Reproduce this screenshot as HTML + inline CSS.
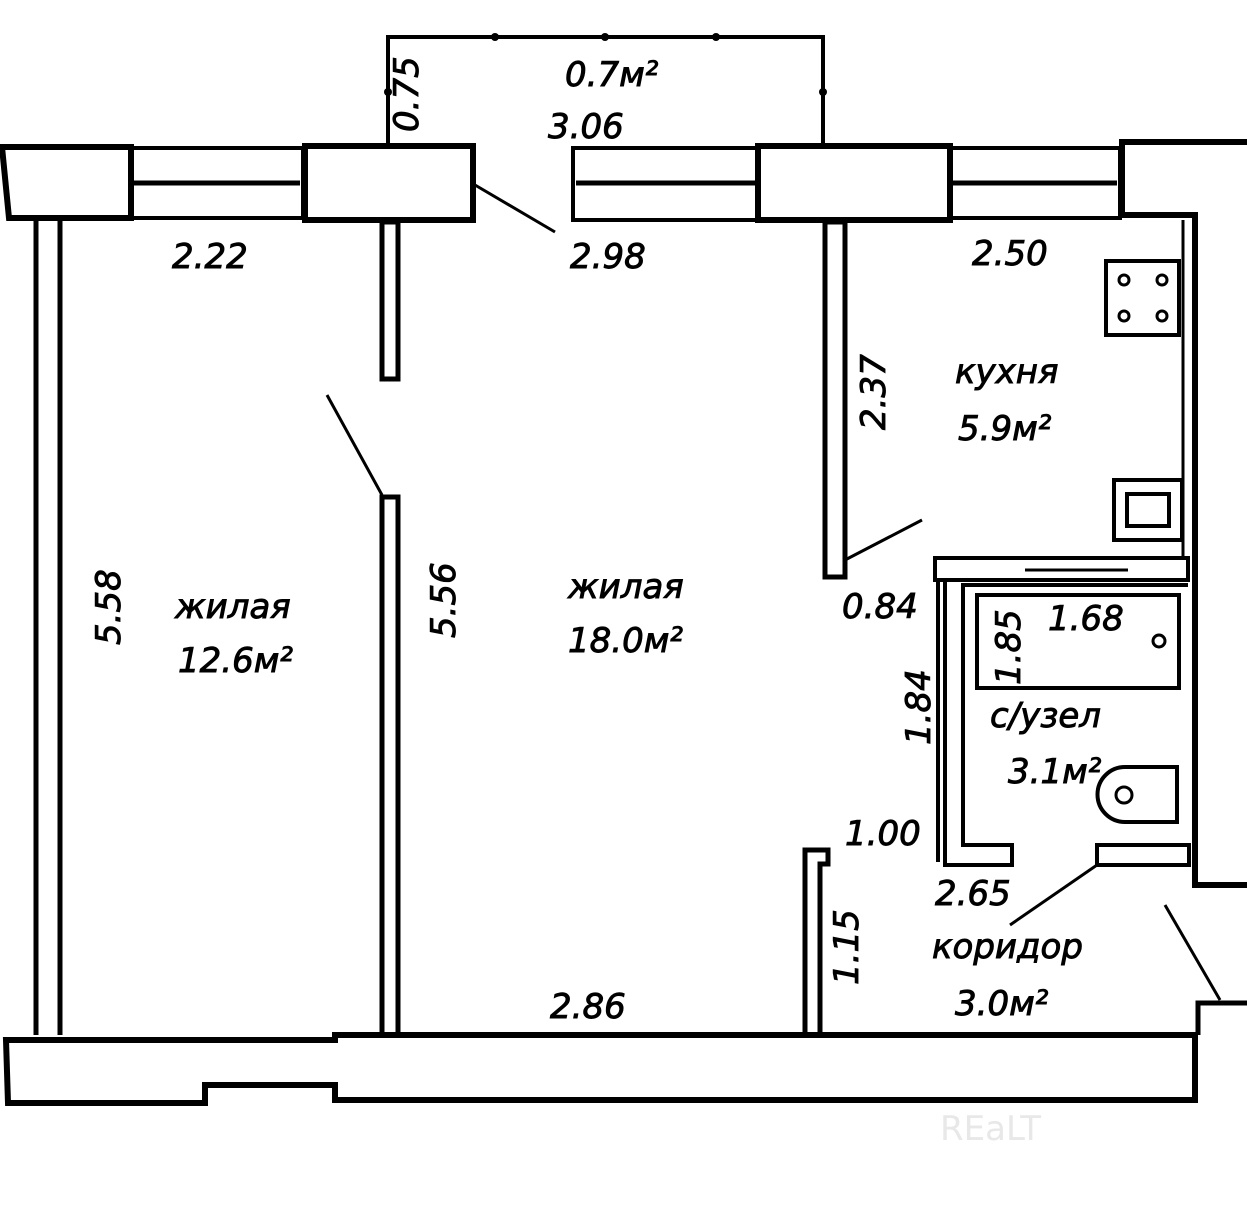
<!DOCTYPE html>
<html><head><meta charset="utf-8"><style>
html,body{margin:0;padding:0;background:#fff;}
svg{display:block}
text{font-family:"DejaVu Sans","Liberation Sans",sans-serif;font-style:italic;fill:#000;font-size:34px;stroke:#000;stroke-width:0.9px;}
</style></head><body>
<svg width="1247" height="1208" viewBox="0 0 1247 1208" xmlns="http://www.w3.org/2000/svg">
<g fill="none" stroke="#000" stroke-width="5">
<polyline points="388,145 388,37 823,37 823,145" stroke-width="4"/>
<polygon points="2,147 131,147 131,218 9,218" stroke-width="6"/>
<rect x="131" y="148" width="172" height="70" stroke-width="4"/>
<line x1="134" y1="183" x2="300" y2="183" stroke-width="5"/>
<rect x="305" y="146" width="168" height="74" stroke-width="6"/>
<rect x="573" y="148" width="185" height="72" stroke-width="4"/>
<line x1="576" y1="183" x2="755" y2="183" stroke-width="5"/>
<rect x="758" y="146" width="192" height="74" stroke-width="6"/>
<rect x="950" y="148" width="170" height="70" stroke-width="4"/>
<line x1="953" y1="183" x2="1117" y2="183" stroke-width="5"/>
<polyline points="1247,142 1122,142 1122,215 1195,215 1195,885 1247,885" stroke-width="6"/>
<line x1="1183" y1="220" x2="1183" y2="560" stroke-width="3"/>
<line x1="36" y1="220" x2="36" y2="1035" stroke-width="5"/>
<line x1="60" y1="220" x2="60" y2="1035" stroke-width="5"/>
<rect x="382" y="222" width="16" height="157" stroke-width="5"/>
<rect x="382" y="497" width="16" height="538" stroke-width="5"/>
<line x1="327" y1="395" x2="382" y2="495" stroke-width="3"/>
<line x1="475" y1="185" x2="555" y2="232" stroke-width="3"/>
<rect x="825" y="222" width="20" height="355" stroke-width="5"/>
<line x1="845" y1="560" x2="922" y2="520" stroke-width="3"/>
<rect x="1106" y="261" width="73" height="74" stroke-width="4"/>
<circle cx="1124" cy="280" r="5" stroke-width="3"/><circle cx="1162" cy="280" r="5" stroke-width="3"/>
<circle cx="1124" cy="316" r="5" stroke-width="3"/><circle cx="1162" cy="316" r="5" stroke-width="3"/>
<rect x="1114" y="480" width="68" height="60" stroke-width="4"/>
<rect x="1127" y="494" width="42" height="32" stroke-width="4"/>
<rect x="935" y="558" width="253" height="22" stroke-width="4"/>
<line x1="1025" y1="570" x2="1128" y2="570" stroke-width="3"/>
<polyline points="938,862 938,580" stroke-width="4"/>
<polyline points="945,582 945,865 1012,865 1012,845 963,845 963,585 1188,585" stroke-width="4"/>
<rect x="977" y="595" width="202" height="93" stroke-width="4"/>
<circle cx="1159" cy="641" r="6" stroke-width="3"/>
<path d="M1125,767 L1177,767 L1177,822 L1125,822 A27,27 0 0 1 1125,767 Z" stroke-width="4"/>
<circle cx="1124" cy="795" r="8" stroke-width="3"/>
<rect x="1097" y="845" width="92" height="20" stroke-width="4"/>
<line x1="1097" y1="865" x2="1010" y2="925" stroke-width="3"/>
<polyline points="805,1035 805,850 828,850 828,864 820,864 820,1035" stroke-width="5"/>
<line x1="1165" y1="905" x2="1220" y2="1000" stroke-width="3"/>
<polygon points="6,1040 335,1040 335,1035 1195,1035 1195,1100 335,1100 335,1085 205,1085 205,1103 8,1103" stroke-width="6"/>
<polyline points="1247,1003 1198,1003 1198,1035" stroke-width="5"/>
</g>
<g fill="#000"><circle cx="495" cy="37" r="4"/><circle cx="605" cy="37" r="4"/><circle cx="716" cy="37" r="4"/><circle cx="388" cy="92" r="4"/><circle cx="823" cy="92" r="4"/></g>
<text x="418" y="132" transform="rotate(-90 418 132)" font-size="36">0.75</text>
<text x="565" y="86">0.7м²</text>
<text x="548" y="138">3.06</text>
<text x="172" y="268">2.22</text>
<text x="570" y="268">2.98</text>
<text x="972" y="265">2.50</text>
<text x="885" y="430" transform="rotate(-90 885 430)">2.37</text>
<text x="955" y="383">кухня</text>
<text x="958" y="440">5.9м²</text>
<text x="120" y="645" transform="rotate(-90 120 645)">5.58</text>
<text x="175" y="618">жилая</text>
<text x="178" y="672">12.6м²</text>
<text x="455" y="638" transform="rotate(-90 455 638)">5.56</text>
<text x="568" y="598">жилая</text>
<text x="568" y="652">18.0м²</text>
<text x="842" y="618">0.84</text>
<text x="1048" y="630" font-size="32">1.68</text>
<text x="1020" y="685" transform="rotate(-90 1020 685)" font-size="32">1.85</text>
<text x="930" y="745" transform="rotate(-90 930 745)">1.84</text>
<text x="990" y="727">с/узел</text>
<text x="1008" y="783">3.1м²</text>
<text x="845" y="845">1.00</text>
<text x="935" y="905">2.65</text>
<text x="858" y="985" transform="rotate(-90 858 985)">1.15</text>
<text x="932" y="958">коридор</text>
<text x="955" y="1015">3.0м²</text>
<text x="550" y="1018">2.86</text>
<text x="940" y="1140" font-size="56" style="fill:#e8e8e8;stroke:none;font-style:normal">REaLT</text>
</svg>
</body></html>
